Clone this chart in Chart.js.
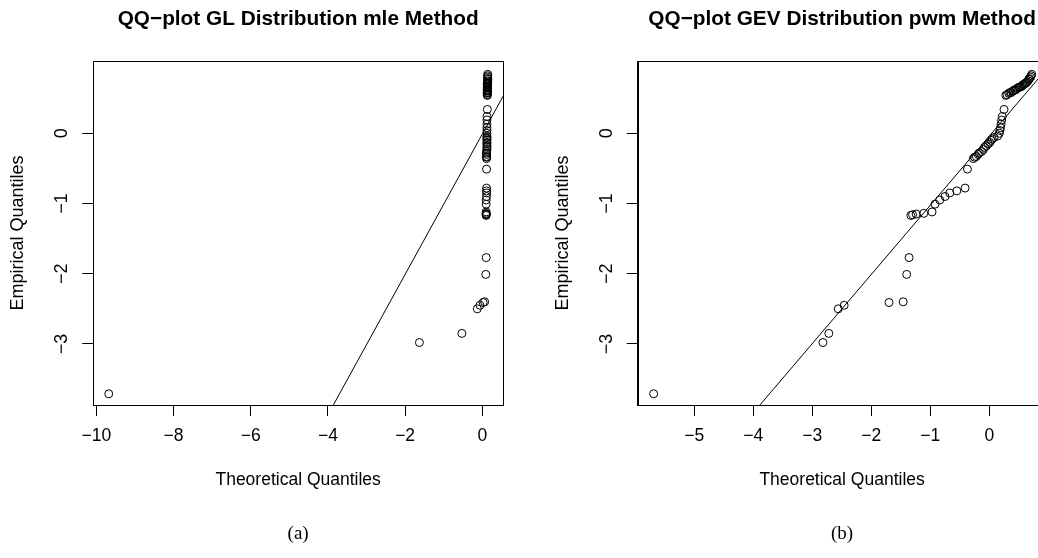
<!DOCTYPE html>
<html>
<head>
<meta charset="utf-8">
<script src="https://cdn.jsdelivr.net/npm/chart.js@4"></script>
<style>
  body { margin: 0; width: 1038px; height: 558px; overflow: hidden; background: #fff; position: relative; }
  .panel { position: absolute; top: 0; height: 558px; }
</style>
</head>
<body>
<div class="panel" style="left:0;width:519px"><canvas id="chartGL" width="519" height="558"></canvas></div>
<div class="panel" style="left:519px;width:560px"><canvas id="chartGEV" width="560" height="558"></canvas></div>
<script>
// sorted sample (empirical quantiles), shared by both panels
var empirical = [
  -3.71, -2.98, -2.85, -2.50, -2.45, -2.41, -2.40, -2.01, -1.77,
  -1.17, -1.16, -1.15, -1.14, -1.12,
  -1.01, -0.95, -0.90, -0.85, -0.82, -0.78,
  -0.51,
  -0.36, -0.34, -0.33, -0.30, -0.28, -0.26, -0.23, -0.20, -0.18, -0.15, -0.13, -0.10, -0.08, -0.06,
  -0.04, 0.00, 0.04, 0.08, 0.13, 0.19, 0.24,
  0.34,
  0.54, 0.55, 0.57, 0.58, 0.58, 0.60, 0.61, 0.62, 0.62, 0.64, 0.65, 0.66, 0.66, 0.67, 0.69, 0.70,
  0.71, 0.72, 0.73, 0.75, 0.77, 0.78, 0.80, 0.82, 0.84
];
// theoretical quantiles, GL fitted by mle
var theoGL = [
  -9.68, -1.63, -0.53, -0.13, -0.06, 0.02, 0.06, 0.09, 0.10,
  0.10, 0.10, 0.10, 0.10, 0.10,
  0.10, 0.10, 0.11, 0.11, 0.11, 0.11,
  0.11,
  0.11, 0.11, 0.11, 0.11, 0.11, 0.11, 0.12, 0.12, 0.12, 0.12, 0.12, 0.12, 0.12, 0.12,
  0.12, 0.12, 0.12, 0.12, 0.12, 0.12, 0.12,
  0.13,
  0.13, 0.13, 0.13, 0.13, 0.13, 0.13, 0.13, 0.13, 0.13, 0.13, 0.13, 0.13, 0.13, 0.13, 0.13, 0.13,
  0.13, 0.14, 0.14, 0.14, 0.14, 0.14, 0.14, 0.14, 0.14
];
// theoretical quantiles, GEV fitted by pwm
var theoGEV = [
  -5.69, -2.82, -2.72, -2.56, -2.46, -1.70, -1.46, -1.40, -1.36,
  -1.33, -1.30, -1.24, -1.11, -0.97,
  -0.92, -0.84, -0.75, -0.67, -0.55, -0.41,
  -0.37,
  -0.27, -0.25, -0.22, -0.19, -0.17, -0.13, -0.10, -0.08, -0.05, -0.02, 0.01, 0.03, 0.05, 0.08,
  0.14, 0.17, 0.18, 0.19, 0.20, 0.21, 0.22,
  0.25,
  0.28, 0.30, 0.33, 0.35, 0.37, 0.40, 0.41, 0.43, 0.45, 0.47, 0.49, 0.51, 0.53, 0.55, 0.57, 0.59,
  0.61, 0.62, 0.64, 0.66, 0.67, 0.68, 0.70, 0.71, 0.72
];

var xTicksGL = [-10, -8, -6, -4, -2, 0];
var xTicksGEV = [-5, -4, -3, -2, -1, 0];
var yTicks = [-3, -2, -1, 0];

// qqline: slope, intercept
var lineGL = [1.0, -0.01];
var lineGEV = [0.985, -0.04];

function minus(v) {
  return String(v).replace('-', '\u2212');
}

// box round the plot region, rotated y labels, titles and caption (R style)
var framePlugin = {
  id: 'frame',
  afterDraw: function(chart, args, opts) {
    var ctx = chart.ctx;
    var a = chart.chartArea;
    var yScale = chart.scales.y;
    var cx = (a.left + a.right) / 2;
    ctx.save();
    ctx.strokeStyle = '#000';
    ctx.lineWidth = 1;
    ctx.strokeRect(Math.round(a.left) + 0.5, Math.round(a.top) + 0.5,
      Math.round(a.right - a.left), Math.round(a.bottom - a.top));

    ctx.fillStyle = '#000';
    ctx.textAlign = 'center';
    ctx.textBaseline = 'middle';
    ctx.font = '18px "Liberation Sans", Arial, sans-serif';
    yScale.ticks.forEach(function(t) {
      ctx.save();
      ctx.translate(a.left - 31, yScale.getPixelForValue(t.value));
      ctx.rotate(-Math.PI / 2);
      ctx.fillText(minus(t.value), 0, 0);
      ctx.restore();
    });
    ctx.save();
    ctx.translate(a.left - 75, (a.top + a.bottom) / 2);
    ctx.rotate(-Math.PI / 2);
    ctx.fillText('Empirical Quantiles', 0, 0);
    ctx.restore();

    ctx.font = '17.5px "Liberation Sans", Arial, sans-serif';
    ctx.fillText('Theoretical Quantiles', cx, 480);

    ctx.font = 'bold 20.8px "Liberation Sans", Arial, sans-serif';
    ctx.fillText(opts.title, cx, 19);

    ctx.font = '19px "Liberation Serif", "Times New Roman", serif';
    ctx.fillText(opts.caption, cx, 534);
    ctx.restore();
  }
};

function makeChart(id, theo, xTicks, line, xMin, xMax, yWidth, padRight, title, caption) {
  var points = theo.map(function(x, i) { return { x: x, y: empirical[i] }; });
  var lineData = [
    { x: xMin - 1, y: line[0] * (xMin - 1) + line[1] },
    { x: xMax + 1, y: line[0] * (xMax + 1) + line[1] }
  ];
  return new Chart(document.getElementById(id).getContext('2d'), {
    type: 'scatter',
    data: {
      datasets: [{
        data: points,
        pointRadius: 4,
        pointHoverRadius: 4,
        pointBorderWidth: 1,
        borderColor: '#000',
        backgroundColor: 'rgba(0,0,0,0)'
      }, {
        data: lineData,
        showLine: true,
        pointRadius: 0,
        borderWidth: 1,
        borderColor: '#000',
        fill: false
      }]
    },
    options: {
      responsive: false,
      animation: false,
      events: [],
      devicePixelRatio: 1,
      layout: { padding: { left: 0, top: 61, right: padRight, bottom: 0 } },
      plugins: {
        legend: { display: false },
        tooltip: { enabled: false },
        frame: { title: title, caption: caption }
      },
      scales: {
        x: {
          type: 'linear',
          min: xMin,
          max: xMax,
          afterBuildTicks: function(s) { s.ticks = xTicks.map(function(v) { return { value: v }; }); },
          afterFit: function(s) { s.height = 153; },
          grid: { drawOnChartArea: false, drawTicks: true, tickLength: 11, color: '#000' },
          border: { display: true, color: '#000' },
          ticks: {
            color: '#000',
            padding: 10,
            autoSkip: false,
            maxRotation: 0,
            font: { family: '"Liberation Sans", Arial, sans-serif', size: 17.5 },
            callback: function(v) { return minus(v); }
          }
        },
        y: {
          type: 'linear',
          min: -3.87,
          max: 1.03,
          afterBuildTicks: function(s) { s.ticks = yTicks.map(function(v) { return { value: v }; }); },
          afterFit: function(s) { s.width = yWidth; },
          grid: { drawOnChartArea: false, drawTicks: true, tickLength: 11, color: '#000' },
          border: { display: true, color: '#000' },
          ticks: { display: false }
        }
      }
    },
    plugins: [framePlugin]
  });
}

makeChart('chartGL', theoGL, xTicksGL, lineGL, -10.08, 0.536, 93.3, 16,
  'QQ\u2212plot GL Distribution mle Method', '(a)');
makeChart('chartGEV', theoGEV, xTicksGEV, lineGEV, -5.96, 0.97, 118.7, 32.5,
  'QQ\u2212plot GEV Distribution pwm Method', '(b)');
</script>
</body>
</html>
